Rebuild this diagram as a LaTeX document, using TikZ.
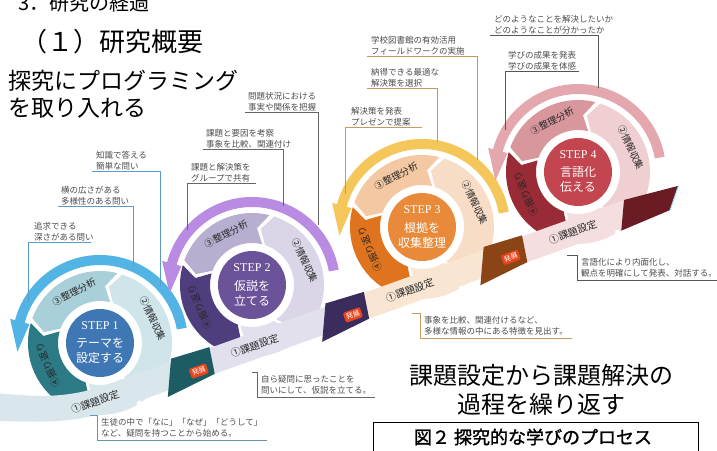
\documentclass[tikz,border=0pt]{standalone}
\usepackage{fontspec}
\setmainfont{Liberation Serif}
\newfontfamily\cjk{Noto Sans CJK JP}
\newfontfamily\cjkbold[FakeBold=1.5]{Noto Sans CJK JP}
\usetikzlibrary{calc}

% step colours: arc, light, pale, dark, disc, band, wedge, lines
\definecolor{arc1}{HTML}{52B4E4}\definecolor{lt1}{HTML}{A9CFD8}\definecolor{pl1}{HTML}{CFE5EA}
\definecolor{dk1}{HTML}{2B7A86}\definecolor{dc1}{HTML}{3F77B4}\definecolor{bd1}{HTML}{D9E7EC}
\definecolor{wd1}{HTML}{1E5C64}\definecolor{ln1}{HTML}{5A9BCB}
\definecolor{arc2}{HTML}{B98BE3}\definecolor{lt2}{HTML}{B8AFD0}\definecolor{pl2}{HTML}{DAD6E8}
\definecolor{dk2}{HTML}{4F3E7E}\definecolor{dc2}{HTML}{6B5399}\definecolor{bd2}{HTML}{E3E0ED}
\definecolor{wd2}{HTML}{3A2C5C}\definecolor{ln2}{HTML}{666666}
\definecolor{arc3}{HTML}{F5C65A}\definecolor{lt3}{HTML}{F3C8A2}\definecolor{pl3}{HTML}{F8DDC6}
\definecolor{dk3}{HTML}{E0741E}\definecolor{dc3}{HTML}{E98A3A}\definecolor{bd3}{HTML}{F8E5D2}
\definecolor{wd3}{HTML}{8A4416}\definecolor{ln3}{HTML}{C49A62}
\definecolor{arc4}{HTML}{E4A7AD}\definecolor{lt4}{HTML}{D8979D}\definecolor{pl4}{HTML}{EFCFD1}
\definecolor{dk4}{HTML}{982B35}\definecolor{dc4}{HTML}{C3454F}\definecolor{bd4}{HTML}{F4DEE0}
\definecolor{wd4}{HTML}{6B1B23}\definecolor{ln4}{HTML}{555555}
\definecolor{tagred}{HTML}{E8451E}

% one chevron piece of a ring: start angle, end angle, colour
\newcommand\ringseg[3]{%
  \fill[#3] (#1:72) arc[start angle=#1, end angle=#2, radius=72]
    -- ({#2+9}:57) -- (#2:42) arc[start angle=#2, end angle=#1, radius=42]
    -- ({#1+9}:57) -- cycle;}

\begin{document}
\begin{tikzpicture}[x=1pt, y=1pt,
  callout/.style={font=\cjk\fontsize{8.5}{11}\selectfont, text=black!70, align=left, inner sep=1pt},
  bracketnote/.style={callout, inner xsep=4pt, inner ysep=3pt},
  ringtxt/.style={font=\cjk\fontsize{9.5}{10}\selectfont, text=black!85, inner sep=0pt},
  bandtxt/.style={font=\cjk\fontsize{10}{11}\selectfont, text=black!85, inner sep=0pt, transform shape},
  steptxt/.style={font=\fontsize{12}{12}\selectfont, text=white, inner sep=0pt},
  disctxt/.style={font=\cjk\fontsize{12}{15}\selectfont, text=white, align=center, inner sep=0pt},
  redtag/.style={fill=tagred, text=white, font=\cjk\fontsize{7}{7}\selectfont, rounded corners=2pt, inner sep=2pt, transform shape},
  bigtxt/.style={font=\cjk\fontsize{24}{27}\selectfont, inner sep=0pt, align=left},
]
\useasboundingbox (0,0) rectangle (717,450);

% headings
\node[bigtxt, anchor=west, font=\cjk\fontsize{20}{20}\selectfont] (head) at (18,447) {3．研究の経過};
\node[bigtxt, anchor=west, font=\cjk\fontsize{26}{26}\selectfont] (sub) at (21,408) {（１）研究概要};
\node[bigtxt, anchor=north west, font=\cjk\fontsize{23}{27}\selectfont] (aim) at (8,380) {探究にプログラミング\\を取り入れる};
\node[font=\cjk\fontsize{24}{29}\selectfont, align=center, inner sep=0pt] (loop) at (541,60) {課題設定から課題解決の\\過程を繰り返す};
\node[draw, line width=0.8pt, minimum width=325pt, minimum height=56pt] (figbox) at (535.5,0) {};
\node[font=\cjkbold\fontsize{18}{18}\selectfont, inner sep=0pt] (figcap) at (533,13) {図２ 探究的な学びのプロセス};

% the four cycles
\foreach \i/\cx/\cy/\ttl in {1/100/107/{テーマを\\設定する}, 2/252/165/{仮説を\\立てる},
    3/422/223/{根拠を\\収集整理}, 4/578/278/{言語化\\伝える}}{
  \begin{scope}[shift={(\cx,\cy)}]
    \fill[arc\i] (10:78) arc[start angle=10, end angle=165, radius=78]
      -- (165:73) -- (186:83) -- (165:93) -- (165:88)
      arc[start angle=165, end angle=10, radius=88] -- cycle;
    \ringseg{-55}{72}{pl\i}
    \ringseg{76}{160}{lt\i}
    \ringseg{164}{250}{dk\i}
    \ringseg{254}{301}{bd\i}
    \node[ringtxt, rotate=-65] (rb\i) at (25:58) {②情報収集};
    \node[ringtxt, rotate=27] (rc\i) at (117:57) {③整理分析};
    \node[ringtxt, rotate=113] (rd\i) at (203:57) {④振り返り};
    \fill[dc\i] (0,0) circle[radius=34];
    \node[steptxt] (st\i) at (0,17) {STEP \i};
    \node[disctxt] (tt\i) at (0,-8) {\ttl};
  \end{scope}
}

% the rising band
\begin{scope}[shift={(103,50)}, rotate=19.67]
  \fill[bd1] (100,13) -- (10,13) .. controls (-40,13) and (-70,30) .. (-102,44)
    -- (-112,18) .. controls (-75,4) and (-40,-13) .. (10,-13) -- (100,-13) -- cycle;
  \fill[bd2] (100,-13) rectangle (264,13);
  \fill[bd3] (264,-13) rectangle (432,13);
  \fill[bd4] (432,-13) rectangle (566,13);
  \fill[wd1] (62,-19) -- (78,16) -- (118,14) -- (114,-13) -- cycle;
  \fill[wd2] (226,-19) -- (242,16) -- (282,14) -- (278,-13) -- cycle;
  \fill[wd3] (394,-19) -- (410,16) -- (450,14) -- (446,-13) -- cycle;
  \fill[wd4] (545,-15) -- (558,13) -- (614,8) -- (598,-12) -- cycle;
  \draw[cyan!40, line width=1pt] (614,8) -- (598,-12);
  \node[redtag] (tag1) at (100,-5) {発展};
  \node[redtag] (tag2) at (264,-4) {発展};
  \node[redtag] (tag3) at (432,-3) {発展};
  \node[bandtxt] (ka1) at (-8,1) {①課題設定};
  \node[bandtxt] (ka2) at (161,0) {①課題設定};
  \node[bandtxt] (ka3) at (326,0) {①課題設定};
  \node[bandtxt] (ka4) at (499,0) {①課題設定};
\end{scope}

% notes above step 1
\coordinate (a1e) at (160,164);
\coordinate (a2e) at (133,183);
\coordinate (a3e) at (28,148);
\node[callout, anchor=south west] (a1) at (95,279) {知識で答える\\簡単な問い};
\node[callout, anchor=south west] (a2) at (60,244) {横の広さがある\\多様性のある問い};
\node[callout, anchor=south west] (a3) at (33,208) {追求できる\\深さがある問い};
\draw[ln1, line width=0.8pt] ([xshift=-3pt]a1.south west) -| (a1e);
\draw[ln1, line width=0.8pt] ([xshift=-2pt]a2.south west) -| (a2e);
\draw[ln1, line width=0.8pt] ([xshift=-4pt]a3.south east) -| (a3e);

% notes above step 2
\coordinate (b1e) at (318,225);
\coordinate (b2e) at (283,244);
\coordinate (b3e) at (187,220);
\node[callout, anchor=south west] (b1) at (247,338) {問題状況における\\事実や関係を把握};
\node[callout, anchor=south west] (b2) at (205,301) {課題と要因を考察\\事象を比較、関連付け};
\node[callout, anchor=south west] (b3) at (190,267) {課題と解決策を\\グループで共有};
\draw[ln2, line width=0.8pt] ([xshift=-2pt]b1.south west) -| (b1e);
\draw[ln2, line width=0.8pt] ([xshift=-2pt]b2.south west) -| (b2e);
\draw[ln2, line width=0.8pt] ([xshift=4pt]b3.south east) -| (b3e);

% notes above step 3
\coordinate (c1e) at (477,290);
\coordinate (c2e) at (437,308);
\coordinate (c3e) at (345,256);
\node[callout, anchor=south west] (c1) at (370,394) {学校図書館の有効活用\\フィールドワークの実施};
\node[callout, anchor=south west] (c2) at (370,362) {納得できる最適な\\解決策を選択};
\node[callout, anchor=south west] (c3) at (350,323) {解決策を発表\\プレゼンで提案};
\draw[ln3, line width=0.8pt] ([xshift=-3pt]c1.south west) -| (c1e);
\draw[ln3, line width=0.8pt] ([xshift=-3pt]c2.south west) -| (c2e);
\draw[ln3, line width=0.8pt] ([xshift=10pt]c3.south east) -| (c3e);

% notes above step 4
\coordinate (d1e) at (598,362);
\coordinate (d2e) at (505,320);
\node[callout, anchor=south west] (d1) at (493,415) {どのようなことを解決したいか\\どのようなことが分かったか};
\node[callout, anchor=south west] (d2) at (507,379) {学びの成果を発表\\学びの成果を体感};
\draw[ln4, line width=0.8pt] ([xshift=-3pt]d1.south west) -| (d1e);
\draw[ln4, line width=0.8pt] ([xshift=2pt]d2.south east) -| (d2e);

% notes below the band
\node[bracketnote, anchor=north west] (n1) at (97,35) {生徒の中で「なに」「なぜ」「どうして」\\など、疑問を持つことから始める。};
\node[bracketnote, anchor=north west] (n2) at (257,78) {自ら疑問に思ったことを\\問いにして、仮説を立てる。};
\node[bracketnote, anchor=north west] (n3) at (420,137) {事象を比較、関連付けるなど、\\多様な情報の中にある特徴を見出す。};
\node[bracketnote, anchor=north west] (n4) at (577,195) {言語化により内面化し、\\観点を明確にして発表、対話する。};
\draw[ln1!70!gray, line width=0.8pt] ([xshift=-7pt]n1.north west) -- (n1.north west) -- (n1.south west) -- (n1.south east);
\draw[ln2, line width=0.8pt] ([xshift=-5pt]n2.north west) -- (n2.north west) -- (n2.south west) -- (n2.south east);
\draw[ln3, line width=0.8pt] ([xshift=-8pt]n3.north west) -- (n3.north west) -- (n3.south west) -- (n3.south east);
\draw[ln4, line width=0.8pt] ([xshift=-10pt]n4.north west) -- (n4.north west) -- (n4.south west) -- (717,0 |- n4.south west);
\end{tikzpicture}
\end{document}
